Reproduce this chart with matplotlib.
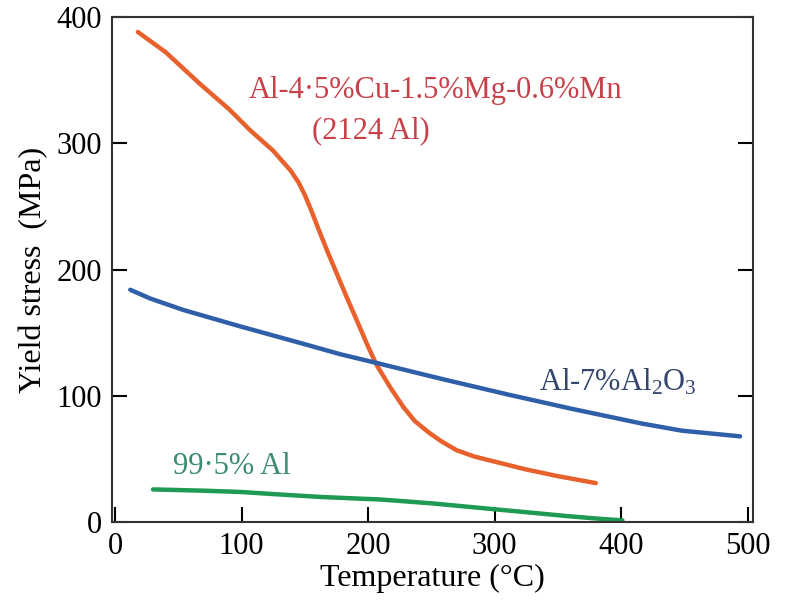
import matplotlib.pyplot as plt

# 2124 Al (Al-4.5%Cu-1.5%Mg-0.6%Mn)
temp_2124 = [18, 40, 67, 90, 107, 125, 139, 145, 150, 155, 160, 168, 176, 184, 194, 200, 207,
             218, 228, 237, 248, 258, 270, 284, 300, 324, 350, 380]
stress_2124 = [388, 372, 347, 327, 310, 294, 278, 269, 259, 247, 234, 214, 195, 176, 153, 139, 124,
               106, 91, 80, 71, 64, 57, 52, 48, 42, 36.5, 31]

# Al-7%Al2O3
temp_oxide = [12, 28, 54, 99, 146, 178, 207, 260, 311, 360, 417, 448, 494]
stress_oxide = [184, 177, 168, 155, 142, 133, 126, 113, 101, 90, 78, 72.5, 68]

# 99.5% Al
temp_pure = [30, 70, 99, 130, 163, 210, 250, 303, 330, 356, 380, 401]
stress_pure = [26, 25, 24, 22, 20, 18, 15, 10, 7.5, 5, 3, 1.5]

x_ticks = [0, 100, 200, 300, 400, 500]
y_ticks = [0, 100, 200, 300, 400]

plt.rcParams['font.family'] = ['Liberation Serif', 'DejaVu Serif']
plt.rcParams['mathtext.fontset'] = 'custom'
plt.rcParams['mathtext.rm'] = 'Liberation Serif'
plt.rcParams['mathtext.it'] = 'Liberation Serif'

fig = plt.figure(figsize=(7.89, 6.01), dpi=100)
ax = fig.add_axes([0.142, 0.131, 0.812, 0.841])

kw = dict(lw=3.2, solid_capstyle='round', solid_joinstyle='round')
ax.plot(temp_2124, stress_2124, color='#e8602c', **kw)
ax.plot(temp_oxide, stress_oxide, color='#2f5fa8', **kw)
ax.plot(temp_pure, stress_pure, color='#1e9a55', **kw)

ax.text(253, 342, 'Al-4·5%Cu-1.5%Mg-0.6%Mn', color='#c8404a', fontsize=22, ha='center', va='center')
ax.text(202, 310, '(2124 Al)', color='#c8404a', fontsize=22, ha='center', va='center')
ax.text(397, 111, r'Al-7%Al$_\mathrm{2}$O$_\mathrm{3}$', color='#34466e', fontsize=22,
        ha='center', va='center')
ax.text(92, 44, '99·5% Al', color='#3c8c6e', fontsize=22, ha='center', va='center')

ax.set_xlim(-2.4, 504)
ax.set_ylim(0, 400)
ax.set_xticks(x_ticks)
ax.set_yticks(y_ticks)
ax.tick_params(direction='in', length=11, width=1.5, labelsize=22, right=True, pad=7)
for s in ax.spines.values():
    s.set_linewidth(1.5)
    s.set_color('#333333')

ax.set_xlabel('Temperature (°C)', fontsize=23, labelpad=2)
ax.set_ylabel('Yield stress  (MPa)', fontsize=23, labelpad=6)

fig.savefig('out.png', dpi=100)
